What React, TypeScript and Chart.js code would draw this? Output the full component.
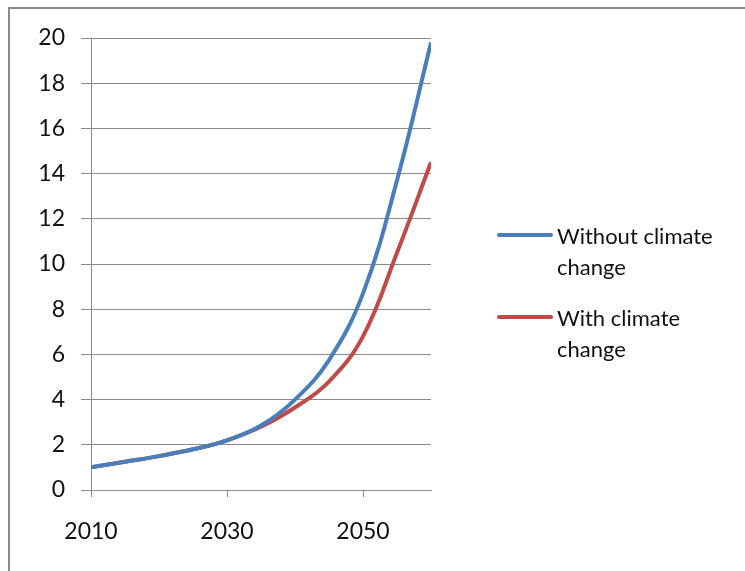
import React, { useEffect, useRef } from "react";
import { Chart, registerables } from "chart.js";

Chart.register(...registerables);

const years = [2010, 2015, 2020, 2025, 2030, 2035, 2040, 2045, 2050, 2055, 2060];
const withoutClimateChange = [1.0, 1.25, 1.5, 1.8, 2.2, 2.85, 4.0, 5.75, 8.7, 13.7, 19.8];
const withClimateChange = [1.0, 1.25, 1.5, 1.8, 2.2, 2.8, 3.65, 4.8, 6.8, 10.5, 14.5];
const xTickValues = [2010, 2030, 2050];
const seriesLabels = [["Without climate", "change"], ["With climate", "change"]];
const seriesColors = ["#4A7EBB", "#BE4B48"];

const FONT = "Lato, 'Open Sans', sans-serif";

const legendPlugin = {
  id: "customLegend",
  afterDraw(chart: any) {
    const ctx = chart.ctx;
    ctx.save();
    const items = [
      { y: 235, label: seriesLabels[0], color: seriesColors[0] },
      { y: 317, label: seriesLabels[1], color: seriesColors[1] },
    ];
    for (const it of items) {
      ctx.strokeStyle = it.color;
      ctx.lineWidth = 4;
      ctx.lineCap = "round";
      ctx.beginPath();
      ctx.moveTo(499, it.y);
      ctx.lineTo(551, it.y);
      ctx.stroke();
      ctx.fillStyle = "#111";
      ctx.font = `22px ${FONT}`;
      ctx.textAlign = "left";
      ctx.textBaseline = "alphabetic";
      it.label.forEach((t: string, i: number) => {
        ctx.fillText(t, 557, it.y + 9 + i * 31);
      });
    }
    // frame
    ctx.strokeStyle = "#8a8a8a";
    ctx.lineWidth = 2;
    ctx.lineCap = "butt";
    ctx.beginPath();
    ctx.moveTo(9, 580);
    ctx.lineTo(9, 8);
    ctx.lineTo(760, 8);
    ctx.stroke();
    ctx.restore();
  },
};

export default function App() {
  const ref = useRef<HTMLCanvasElement>(null);
  useEffect(() => {
    if (!ref.current) return;
    const chart = new Chart(ref.current, {
      type: "line",
      data: {
        datasets: [
          {
            label: seriesLabels[0].join(" "),
            data: years.map((x, i) => ({ x, y: withoutClimateChange[i] })),
            borderColor: seriesColors[0],
            backgroundColor: seriesColors[0],
            borderWidth: 4,
            pointRadius: 0,
            tension: 0.4,
          },
          {
            label: seriesLabels[1].join(" "),
            data: years.map((x, i) => ({ x, y: withClimateChange[i] })),
            borderColor: seriesColors[1],
            backgroundColor: seriesColors[1],
            borderWidth: 4,
            pointRadius: 0,
            tension: 0.4,
          },
        ],
      },
      options: {
        animation: false,
        responsive: false,
        maintainAspectRatio: false,
        layout: { padding: { left: 0, right: 314, top: 38, bottom: 0 } },
        plugins: { legend: { display: false }, tooltip: { enabled: false } },
        scales: {
          x: {
            type: "linear",
            min: 2010,
            max: 2060,
            afterBuildTicks: (s: any) => {
              s.ticks = xTickValues.map((v) => ({ value: v }));
            },
            afterFit: (s: any) => {
              s.height = 81;
            },
            ticks: {
              color: "#111",
              font: { family: FONT, size: 23 },
              padding: 21,
              maxRotation: 0,
              autoSkip: false,
              callback: (v: any) => String(v),
            },
            grid: {
              drawOnChartArea: false,
              drawTicks: true,
              tickLength: 7,
              color: "#8a8a8a",
            },
            border: { display: true, color: "#8a8a8a" },
          },
          y: {
            min: 0,
            max: 20,
            afterFit: (s: any) => {
              s.width = 91;
            },
            ticks: {
              stepSize: 2,
              color: "#111",
              font: { family: FONT, size: 23 },
              padding: 16,
            },
            grid: {
              color: "#8a8a8a",
              tickLength: 10,
            },
            border: { display: true, color: "#8a8a8a" },
          },
        },
      },
      plugins: [legendPlugin],
    });
    return () => chart.destroy();
  }, []);
  return (
    <div style={{ position: "fixed", left: 0, top: 0, width: 745, height: 571, background: "#fff" }}>
      <canvas ref={ref} width={745} height={571} style={{ display: "block" }} />
    </div>
  );
}
